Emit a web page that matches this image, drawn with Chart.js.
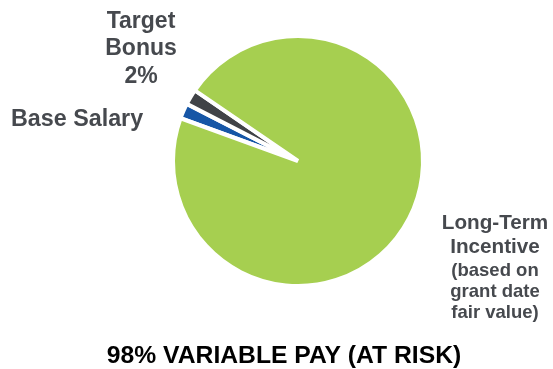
<!DOCTYPE html>
<html>
<head>
<meta charset="utf-8">
<script src="https://cdn.jsdelivr.net/npm/chart.js@4/dist/chart.umd.min.js"></script>
<style>
  html, body { margin: 0; padding: 0; background: #fff; }
  #wrap { position: relative; width: 553px; height: 369px; }
</style>
</head>
<body>
<div id="wrap"><canvas id="payChart" width="553" height="369"></canvas></div>
<script>
// pay mix data (percent of total)
const categories = ['Base Salary', 'Target Bonus', 'Long-Term Incentive'];
const values = [2, 2, 96];
const colors = ['#1656a6', '#404347', '#a6cf50'];

const labelGray = '#46494e';
const font = '"Liberation Sans", Arial, sans-serif';

// text labels drawn next to the pie
const labelPlugin = {
    id: 'pieLabels',
    afterDraw(chart) {
        const ctx = chart.ctx;
        ctx.save();
        ctx.textAlign = 'center';
        ctx.textBaseline = 'alphabetic';
        ctx.fillStyle = labelGray;

        ctx.font = 'bold 23px ' + font;
        ctx.fillText('Target', 141, 28);
        ctx.fillText('Bonus', 141, 55);
        ctx.fillText('2%', 141, 83);

        ctx.textAlign = 'left';
        ctx.font = 'bold 23.3px ' + font;
        ctx.fillText('Base Salary', 11, 126);

        ctx.textAlign = 'center';
        ctx.font = 'bold 20.7px ' + font;
        ctx.fillText('Long-Term', 495, 229);
        ctx.fillText('Incentive', 495, 253);
        ctx.font = 'bold 18.5px ' + font;
        ctx.fillText('(based on', 495, 276);
        ctx.fillText('grant date', 495, 297);
        ctx.fillText('fair value)', 495, 318);

        ctx.fillStyle = '#000';
        ctx.font = 'bold 24.7px ' + font;
        ctx.fillText('98% VARIABLE PAY (AT RISK)', 284, 363);
        ctx.restore();
    }
};

new Chart(document.getElementById('payChart'), {
    type: 'pie',
    data: {
        labels: categories,
        datasets: [{
            data: values,
            backgroundColor: colors,
            borderColor: '#ffffff',
            borderWidth: 4
        }]
    },
    options: {
        responsive: false,
        animation: false,
        rotation: 290,
        layout: { padding: { left: 100, right: 57, top: 34, bottom: 81 } },
        plugins: {
            legend: { display: false },
            tooltip: { enabled: false }
        }
    },
    plugins: [labelPlugin]
});
</script>
</body>
</html>
